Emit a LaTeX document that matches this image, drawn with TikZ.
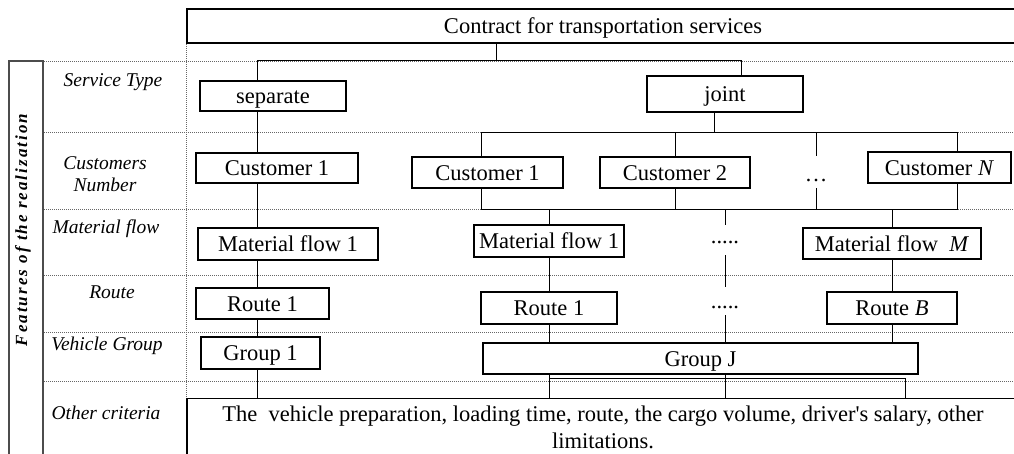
\documentclass[tikz,border=0pt]{standalone}
\usepackage{fontspec}
\setmainfont{Liberation Serif}
\newfontfamily\stripfont[LetterSpace=12]{Liberation Serif}
\newcommand\boxfont{\fontsize{22.5}{27}\selectfont}
\newcommand\rowfont{\fontsize{19.5}{22}\selectfont\itshape}
\tikzset{
  frame/.style 2 args={draw=black,line width=1.2pt,inner sep=0pt,font=\boxfont,align=center,
    minimum width=#1pt,minimum height=#2pt},
  gbox/.style 2 args={frame={#1}{#2},text height=15pt,text depth=0pt},
  rowlbl/.style={font=\rowfont,align=center,inner sep=0pt},
  gap/.style={inner sep=0pt,font=\boxfont,anchor=base},
  grid/.style={draw=black!60,line width=0.8pt,dash pattern=on 0.8pt off 1.2pt},
  link/.style={line width=1pt,color=black},
}

\begin{document}
\begin{tikzpicture}[x=1pt,y=-1pt]
  \clip (0,0) rectangle (1014,453);
  % dotted row grid
  \foreach \yy in {61,132,209,275,332,381}
    \draw[grid] (42,\yy) -- (1014,\yy);
  \draw[grid] (186,8) -- (186,453);
  % side strip
  \node[draw=black!70,line width=1.6pt,minimum width=34pt,minimum height=420pt,anchor=north west,inner sep=0pt] (strip) at (8,60) {};
  \node[rotate=90,inner sep=0pt,font=\stripfont\fontsize{17}{19}\selectfont\bfseries\itshape] (striptxt) at (23,230) {Features of the realization};
  % row names
  \node[rowlbl] (rType)  at (113,82)  {Service Type};
  \node[rowlbl] (rCust)  at (105,174) {Customers\\Number};
  \node[rowlbl] (rFlow)  at (106,229) {Material flow};
  \node[rowlbl] (rRoute) at (112,292) {Route};
  \node[rowlbl] (rGroup) at (107,346) {Vehicle Group};
  \node[rowlbl] (rOther) at (106,413) {Other criteria};
  % boxes
  \node[gbox={832}{34}] (contract) at (603,26) {Contract for transportation services};
  \node[gbox={146}{30}] (sep)   at (273,96)    {separate};
  \node[gbox={156}{36}] (joint) at (725,94)    {joint};
  \node[gbox={162}{30}] (c1L)   at (277,168)   {Customer 1};
  \node[gbox={151}{31}] (c1)    at (487.5,172.5) {Customer 1};
  \node[gbox={150}{31}] (c2)    at (675,172.5) {Customer 2};
  \node[gap,text height=25pt,text depth=7pt] (cdots) at (816,181) {…};
  \node[gbox={143}{31}] (cN)    at (939.5,167.5) {Customer \textit{N}};
  \node[gbox={180}{32}] (mf1L)  at (288,244)   {Material flow 1};
  \node[gbox={150}{32}] (mf1)   at (549,241)   {Material flow 1};
  \node[gap,text height=18pt,text depth=12pt] (mdots) at (725,243) {.....};
  \node[gbox={178}{31}] (mfM)   at (892,243.5) {Material flow\ \ \textit{M}};
  \node[gbox={133}{31}] (r1L)   at (262.5,303.5) {Route 1};
  \node[gbox={136}{32}] (r1)    at (549,308)   {Route 1};
  \node[gap,text height=21pt,text depth=7pt] (rdots) at (725,308) {.....};
  \node[gbox={130}{32}] (rB)    at (892,308)   {Route \textit{B}};
  \node[gbox={119}{32}] (g1L)   at (260.5,353) {Group 1};
  \node[gbox={435}{31}] (gJ)    at (700.5,358.5) {Group J};
  \node[frame={832}{57},anchor=north] (other) at (603,398)
    {The\ \ vehicle preparation, loading time, route, the cargo volume, driver\textquotesingle s salary, other\\limitations.};
  % tree
  \coordinate (colL)   at (257,0);
  \coordinate (tsplit) at (496,60);
  \coordinate (bR)     at (741,60);
  \draw[link] (contract.south -| tsplit) -- (tsplit);
  \draw[link] (sep.north -| colL) |- (bR) -- (joint.north -| bR);
  \foreach \a/\b in {sep/c1L,c1L/mf1L,mf1L/r1L,r1L/g1L,g1L/other}
    \draw[link] (\a.south -| colL) -- (\b.north -| colL);
  % joint: customers
  \coordinate (jdrop) at (714,132);
  \coordinate (cbusL) at (481,132);
  \coordinate (cbusR) at (957,132);
  \draw[link] (joint.south -| jdrop) -- (jdrop);
  \draw[link] (c1.north -| cbusL) |- (cbusR) -- (cN.north -| cbusR);
  \draw[link] (c2.north |- cbusL) -- (c2.north);
  \draw[link] (cdots.north |- cbusL) -- (cdots.north);
  % customers to flows
  \coordinate (mbusL) at (481,209);
  \coordinate (mbusR) at (957,209);
  \draw[link] (c1.south -| mbusL) |- (mbusR) -- (cN.south -| mbusR);
  \draw[link] (c2.south) -- (c2.south |- mbusL);
  \draw[link] (cdots.south) -- (cdots.south |- mbusL);
  \foreach \n in {mf1,mdots,mfM}
    \draw[link] (\n.north |- mbusL) -- (\n.north);
  % flows, routes, group
  \draw[link] (mf1) -- (r1);
  \draw[link] (mdots) -- (rdots);
  \draw[link] (mfM) -- (rB);
  \foreach \n in {r1,rdots,rB}
    \draw[link] (\n.south) -- (\n.south |- gJ.north);
  % group to other criteria
  \coordinate (gbusL) at (549,378);
  \coordinate (gbusR) at (905,378);
  \draw[link] (gJ.south -| gbusL) -- (other.north -| gbusL);
  \draw[link] (gJ.south -| rdots) -- (other.north -| rdots);
  \draw[link] (gbusL) -- (gbusR) -- (other.north -| gbusR);
\end{tikzpicture}
\end{document}
